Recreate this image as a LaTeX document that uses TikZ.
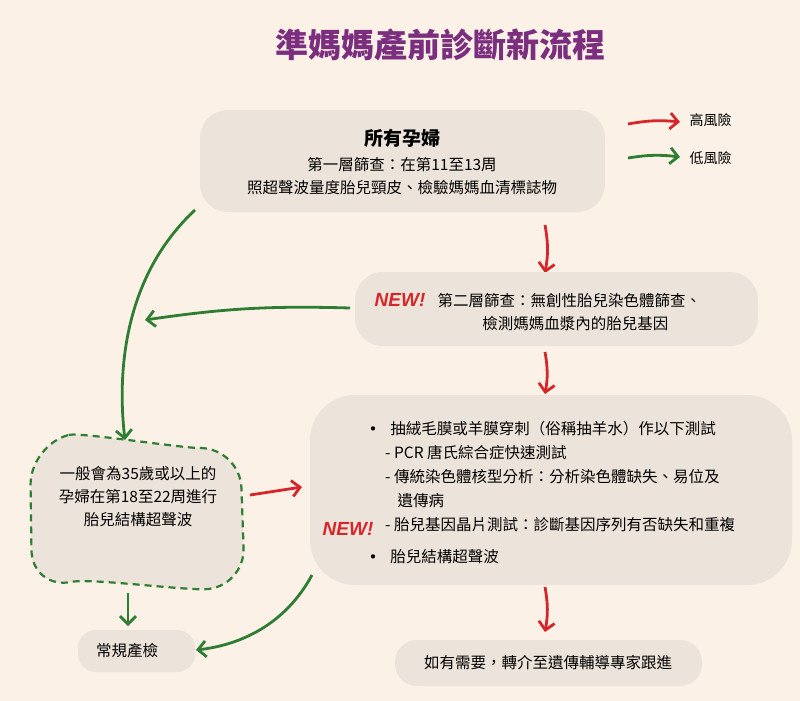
\documentclass[tikz,border=0pt]{standalone}
\usepackage{fontspec}
\setmainfont{Noto Sans CJK TC}
\newfontfamily\newlabfont{Liberation Sans}
\usetikzlibrary{arrows.meta}
\definecolor{bg}{HTML}{FBF1E6}
\definecolor{blob}{HTML}{ECE4DA}
\definecolor{ttl}{HTML}{7B2D7E}
\definecolor{rr}{HTML}{D7262B}
\definecolor{gg}{HTML}{2E7D32}
\newcommand{\bul}{{\fontsize{20}{20}\selectfont\raisebox{-1.5pt}{•}}}
\begin{document}
\begin{tikzpicture}[x=1pt,y=-1pt,
  blobbox/.style={fill=blob,rounded corners=28pt,inner sep=0},
  txt/.style={font=\fontsize{15.5}{23}\selectfont,align=center},
  redarr/.style={draw=rr,line width=2.8pt,-{Straight Barb[length=8pt,width=16pt]}},
  grnarr/.style={draw=gg,line width=2.8pt,-{Straight Barb[length=8pt,width=16pt]}},
  newlab/.style={text=rr,font=\newlabfont\bfseries\itshape\fontsize{19}{20}\selectfont}]
\fill[bg] (0,0) rectangle (800,701);
\useasboundingbox (0,0) rectangle (800,701);
\node[text=ttl,font=\bfseries\fontsize{33}{36}\selectfont] (title) at (440,45) {準媽媽產前診斷新流程};
% legend
\coordinate (l1a) at (628,124); \coordinate (l1b) at (680,122);
\coordinate (l2a) at (628,158); \coordinate (l2b) at (680,157);
\draw[redarr] (l1a) to[bend left=8] (l1b);
\draw[grnarr] (l2a) to[bend left=8] (l2b);
\node[txt,anchor=west,font=\fontsize{14}{16}\selectfont] (hr) at (686,120) {高風險};
\node[txt,anchor=west,font=\fontsize{14}{16}\selectfont] (lr) at (686,158) {低風險};
% blob1
\fill[blobbox] (200,110) rectangle (605,212);
\node[txt] (b1) at (402,162) {\textbf{\fontsize{19}{22}\selectfont 所有孕婦}\\[2pt]第一層篩查：在第11至13周\\照超聲波量度胎兒頸皮、檢驗媽媽血清標誌物};
\coordinate (b1bot) at (545,225);
\coordinate (b2top) at (545,273);
\draw[redarr] (b1bot) to[bend left=10] (b2top);
% blob2
\fill[blobbox] (355,272) rectangle (758,346);
\node[newlab] (new1) at (400,300) {NEW!};
\node[txt,align=left,anchor=west] (b2) at (434,312) {第二層篩查：無創性胎兒染色體篩查、\\\hspace{2.9em}檢測媽媽血漿內的胎兒基因};
\coordinate (b2l) at (350,308); \coordinate (g1e) at (145,320);
\draw[grnarr] (b2l) to[bend right=5] (g1e);
\coordinate (b2bot) at (545,352); \coordinate (b3top) at (545,394);
\draw[redarr] (b2bot) to[bend left=10] (b3top);
% big blob
\fill[blobbox,rounded corners=45pt] (310,395) rectangle (792,585);
\node[txt,align=left,anchor=north west,font=\fontsize{15.5}{24}\selectfont] (b3) at (360,418) {%
\bul\ \ 抽絨毛膜或羊膜穿刺（俗稱抽羊水）作以下測試\\
\hspace{1.4em}- PCR 唐氏綜合症快速測試\\
\hspace{1.4em}- 傳統染色體核型分析：分析染色體缺失、易位及\\
\hspace{2.2em}遺傳病\\
\hspace{1.4em}- 胎兒基因晶片測試：診斷基因序列有否缺失和重複\\[8pt]
\bul\ \ 胎兒結構超聲波};
\node[newlab] (new2) at (348,529) {NEW!};
% dashed blob
\draw[gg,line width=2.2pt,dash pattern=on 7pt off 5pt,fill=blob,rounded corners=40pt] (30,445) .. controls (80,432) and (180,448) .. (240,448) -- (245,588) .. controls (180,590) and (90,578) .. (32,590) -- cycle;
\node[txt] (dash) at (138,497) {一般會為35歲或以上的\\孕婦在第18至22周進行\\胎兒結構超聲波};
\coordinate (g2s) at (195,210); \coordinate (g2e) at (125,440);
\draw[grnarr] (g2s) .. controls (120,280) and (118,380) .. (g2e);
\coordinate (r3s) at (250,495); \coordinate (r3e) at (302,487);
\draw[redarr] (r3s) -- (r3e);
% small blob
\fill[blobbox,rounded corners=18pt] (78,630) rectangle (195,672);
\node[txt] (rc) at (127,651) {常規產檢};
\coordinate (g3s) at (128,593); \coordinate (g3e) at (128,626);
\draw[grnarr] (g3s) -- (g3e);
\coordinate (g4s) at (312,575); \coordinate (g4e) at (196,650);
\draw[grnarr] (g4s) .. controls (285,625) and (240,645) .. (g4e);
% last blob
\fill[blobbox,rounded corners=22pt] (395,640) rectangle (702,686);
\node[txt] (lb) at (548,663) {如有需要，轉介至遺傳輔導專家跟進};
\coordinate (r4s) at (545,587); \coordinate (r4e) at (545,632);
\draw[redarr] (r4s) to[bend left=10] (r4e);
\end{tikzpicture}
\end{document}
